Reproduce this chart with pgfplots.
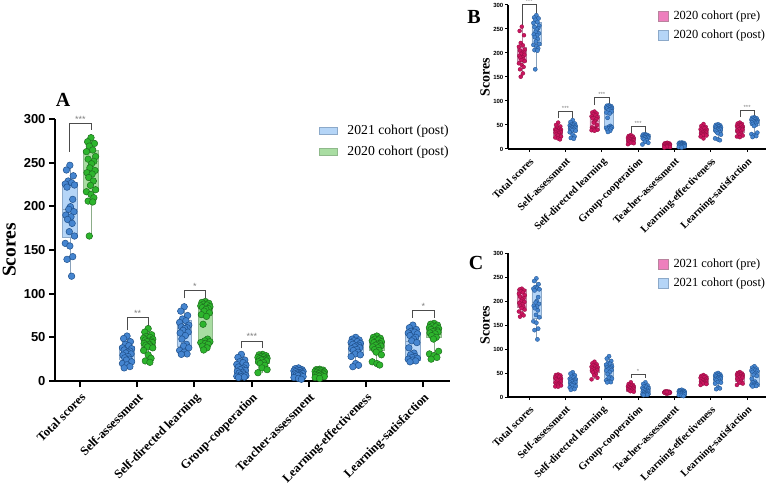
\documentclass[border=0pt]{standalone}
\usepackage{fontspec}
\setmainfont{Liberation Serif}
\newfontfamily\arial{Liberation Sans}
\usepackage{pgfplots}
\usepackage{pgfplotstable}
\pgfplotsset{compat=1.18}

\definecolor{bptfill}{HTML}{4585D0}
\definecolor{bptedge}{HTML}{1E4F8A}
\definecolor{bboxfill}{HTML}{B5D5F7}
\definecolor{bboxedge}{HTML}{8CA9C9}
\definecolor{gptfill}{HTML}{2DB52D}
\definecolor{gptedge}{HTML}{1E6E1E}
\definecolor{gboxfill}{HTML}{A9DDA2}
\definecolor{gboxedge}{HTML}{8FB98B}
\definecolor{pptfill}{HTML}{CC1560}
\definecolor{pptedge}{HTML}{8E0E40}
\definecolor{pboxfill}{HTML}{F49AC8}
\definecolor{pboxedge}{HTML}{B9839E}
\definecolor{pleg}{HTML}{EE7FBD}

% c = dimension (0..6), d = horizontal spread inside the box, v = score
% 2021 cohort (post)
\pgfplotstableread[row sep=\\]{
c d v\\
0 0 247\\ 0 -.06 241.6\\ 0 .06 235\\ 0 -.03 229\\ 0 .03 227\\ 0 -.08 225.6\\ 0 .08 224.4\\ 0 -.05 222\\ 0 .05 208\\ 0 .01 199.6\\ 0 -.02 196.6\\ 0 .07 193.9\\
0 -.07 190\\ 0 .02 188\\ 0 -.04 185\\ 0 .04 180.5\\ 0 -.01 171\\ 0 .08 166\\ 0 -.08 157.6\\ 0 0 154.6\\ 0 .05 142.4\\ 0 -.05 139.3\\ 0 .03 120\\
1 0 51.5\\ 1 -.06 48.6\\ 1 .06 45\\ 1 -.03 42\\ 1 .03 40.4\\ 1 -.08 38\\ 1 .08 37\\ 1 -.05 35.5\\ 1 .05 34.3\\ 1 .01 33\\ 1 -.02 32\\
1 .07 31\\ 1 -.07 29.6\\ 1 .02 28\\ 1 -.04 26.5\\ 1 .04 25\\ 1 -.01 24\\ 1 .08 22\\ 1 -.08 20\\ 1 0 18.5\\ 1 .05 16.5\\ 1 -.05 15\\
2 0 85\\ 2 -.06 80\\ 2 .06 75\\ 2 -.03 71\\ 2 .03 69\\ 2 -.08 67\\ 2 .08 64\\ 2 -.05 62\\ 2 .05 61\\ 2 .01 60\\ 2 -.02 58\\
2 .07 56\\ 2 -.07 55\\ 2 .02 52\\ 2 -.04 48\\ 2 .04 42\\ 2 -.01 40\\ 2 .08 38\\ 2 -.08 35\\ 2 0 33\\ 2 .05 31\\ 2 -.05 30.5\\
3 0 30.5\\ 3 -.06 27\\ 3 .06 24\\ 3 -.03 22\\ 3 .03 21\\ 3 -.08 19\\ 3 .08 18\\ 3 -.05 16\\ 3 .05 15\\ 3 .01 14\\ 3 -.02 13\\
3 .07 12\\ 3 -.07 11\\ 3 .02 10\\ 3 -.04 9\\ 3 .04 8\\ 3 -.01 7\\ 3 .08 6\\ 3 -.08 5.5\\ 3 0 5\\ 3 .05 4.5\\ 3 -.05 4\\
4 0 15\\ 4 -.06 14\\ 4 .06 13\\ 4 -.03 12.5\\ 4 .03 12\\ 4 -.08 11.5\\ 4 .08 11\\ 4 -.05 10.5\\ 4 .05 10\\ 4 .01 9.5\\ 4 -.02 9\\
4 .07 8.5\\ 4 -.07 8\\ 4 .02 7.5\\ 4 -.04 7\\ 4 .04 6.5\\ 4 -.01 6\\ 4 .08 5\\ 4 -.08 4\\ 4 0 3\\ 4 .05 2\\
5 0 50\\ 5 -.06 48\\ 5 .06 47\\ 5 -.03 46\\ 5 .03 45\\ 5 -.08 44\\ 5 .08 43\\ 5 -.05 42\\ 5 .05 41\\ 5 .01 40\\ 5 -.02 39\\
5 .07 38\\ 5 -.07 37\\ 5 .02 36\\ 5 -.04 35\\ 5 .04 33\\ 5 -.01 31\\ 5 .08 30\\ 5 -.08 28\\ 5 0 20\\ 5 .05 18\\ 5 -.05 16.4\\
6 0 64\\ 6 -.06 61\\ 6 .06 59\\ 6 -.03 57\\ 6 .03 56\\ 6 -.08 55\\ 6 .08 54\\ 6 -.05 52\\ 6 .05 50\\ 6 .01 48\\ 6 -.02 46\\
6 .07 44\\ 6 -.07 38\\ 6 .02 32\\ 6 -.04 30\\ 6 .04 28\\ 6 -.01 27\\ 6 .08 26\\ 6 -.08 25\\ 6 0 24\\ 6 .05 23\\ 6 -.05 22\\
}\postone

% 2020 cohort (post)
\pgfplotstableread[row sep=\\]{
c d v\\
0 0 278.6\\ 0 -.06 274\\ 0 .06 272\\ 0 -.03 269\\ 0 .03 264.5\\ 0 -.08 262.6\\ 0 .08 257\\ 0 -.05 254\\ 0 .05 251.5\\ 0 .01 248.7\\ 0 -.02 244\\ 0 .07 241\\
0 -.07 238.5\\ 0 .02 237\\ 0 -.04 233\\ 0 .04 229\\ 0 -.01 224\\ 0 .08 219\\ 0 -.08 216.7\\ 0 0 213.6\\ 0 .05 209.8\\ 0 -.05 206\\ 0 .03 205\\ 0 -.03 166\\
1 0 60\\ 1 -.06 56\\ 1 .06 53\\ 1 -.03 51\\ 1 .03 50\\ 1 -.08 49\\ 1 .08 48\\ 1 -.05 47\\ 1 .05 46\\ 1 .01 45.5\\ 1 -.02 45\\ 1 .07 44\\
1 -.07 43\\ 1 .02 42\\ 1 -.04 41\\ 1 .04 40\\ 1 -.01 39\\ 1 .08 38\\ 1 -.08 35\\ 1 0 30\\ 1 .05 26\\ 1 -.05 23\\ 1 .03 21.4\\
2 0 91\\ 2 -.06 90\\ 2 .06 89\\ 2 -.03 88\\ 2 .03 87\\ 2 -.08 86\\ 2 .08 85\\ 2 -.05 84\\ 2 .05 83\\ 2 .01 82\\ 2 -.02 80\\ 2 .07 78\\
2 -.07 76\\ 2 .02 74\\ 2 -.04 65\\ 2 .04 48\\ 2 -.01 46\\ 2 .08 45\\ 2 -.08 44\\ 2 0 43\\ 2 .05 42\\ 2 -.05 40\\ 2 .03 38\\ 2 -.03 35.5\\
3 0 30.5\\ 3 -.06 30\\ 3 .06 29\\ 3 -.03 28\\ 3 .03 27.5\\ 3 -.08 27\\ 3 .08 26\\ 3 -.05 25.5\\ 3 .05 25\\ 3 .01 24.5\\
3 -.02 24\\ 3 .07 23\\ 3 -.07 22\\ 3 .02 21\\ 3 -.04 20\\ 3 .04 18\\ 3 -.01 15\\ 3 .08 13\\ 3 -.08 9.5\\
4 0 13.5\\ 4 -.06 13\\ 4 .06 12.5\\ 4 -.03 12\\ 4 .03 11.5\\ 4 -.08 11\\ 4 .08 10.5\\ 4 -.05 10\\ 4 .05 9.5\\ 4 .01 9\\
4 -.02 8.5\\ 4 .07 8\\ 4 -.07 7.5\\ 4 .02 7\\ 4 -.04 6.5\\ 4 .04 6\\ 4 -.01 5.5\\ 4 .08 5\\ 4 -.08 4\\ 4 0 3\\
5 0 51.5\\ 5 -.06 50\\ 5 .06 49\\ 5 -.03 48\\ 5 .03 47\\ 5 -.08 46\\ 5 .08 45\\ 5 -.05 44\\ 5 .05 43\\ 5 .01 42\\ 5 -.02 41\\
5 .07 40\\ 5 -.07 39\\ 5 .02 38\\ 5 -.04 36\\ 5 .04 35\\ 5 -.01 33\\ 5 .08 30\\ 5 -.08 22\\ 5 0 20\\ 5 .05 18.3\\
6 0 66\\ 6 -.06 65\\ 6 .06 64\\ 6 -.03 63\\ 6 .03 62\\ 6 -.08 61\\ 6 .08 60\\ 6 -.05 59\\ 6 .05 58\\ 6 .01 57\\ 6 -.02 56.5\\
6 .07 56\\ 6 -.07 55\\ 6 .02 54\\ 6 -.04 52\\ 6 .04 50\\ 6 -.01 48\\ 6 .08 34\\ 6 -.08 31\\ 6 0 29\\ 6 .05 27\\ 6 -.05 25\\
}\posttwo

% 2020 cohort (pre)
\pgfplotstableread[row sep=\\]{
c d v\\
0 0 254.8\\ 0 -.06 246\\ 0 .06 237\\ 0 -.03 221\\ 0 .03 216\\ 0 -.08 213\\ 0 .08 207\\ 0 -.05 205\\ 0 .05 202\\ 0 .01 200\\ 0 -.02 198\\ 0 .07 196\\
0 -.07 194\\ 0 .02 191\\ 0 -.04 190\\ 0 .04 187\\ 0 -.01 185\\ 0 .08 183\\ 0 -.08 178.5\\ 0 0 175\\ 0 .05 171\\ 0 -.05 166\\ 0 .03 157.6\\ 0 -.03 150.6\\
1 0 55\\ 1 -.06 50\\ 1 .06 47\\ 1 -.03 44\\ 1 .03 42\\ 1 -.08 41\\ 1 .08 40\\ 1 -.05 39\\ 1 .05 38\\ 1 .01 37\\ 1 -.02 36\\
1 .07 35\\ 1 -.07 34\\ 1 .02 33\\ 1 -.04 31\\ 1 .04 29\\ 1 -.01 28\\ 1 .08 26\\ 1 -.08 24\\ 1 0 22\\ 1 .05 20\\
2 0 78\\ 2 -.06 76\\ 2 .06 74\\ 2 -.03 72\\ 2 .03 70\\ 2 -.08 68\\ 2 .08 66\\ 2 -.05 64\\ 2 .05 62\\ 2 .01 58\\
2 -.02 55\\ 2 .07 50\\ 2 -.07 45\\ 2 .02 43\\ 2 -.04 42\\ 2 .04 41\\ 2 -.01 40\\ 2 .08 40\\ 2 -.08 39\\ 2 0 38\\
3 0 29\\ 3 -.06 27\\ 3 .06 26\\ 3 -.03 25\\ 3 .03 24\\ 3 -.08 23\\ 3 .08 22\\ 3 -.05 21\\ 3 .05 20\\ 3 .01 20\\
3 -.02 19\\ 3 .07 18\\ 3 -.07 17\\ 3 .02 16\\ 3 -.04 15\\ 3 .04 14\\ 3 -.01 13\\ 3 .08 12\\ 3 -.08 10\\
4 0 13\\ 4 -.06 12\\ 4 .06 11.5\\ 4 -.03 11\\ 4 .03 10.5\\ 4 -.08 10\\ 4 .08 9.5\\ 4 -.05 9\\ 4 .05 8.5\\ 4 .01 8\\
4 -.02 7.5\\ 4 .07 7\\ 4 -.07 6.5\\ 4 .02 6\\ 4 -.04 5.5\\ 4 .04 5\\ 4 -.01 4.5\\ 4 .08 4\\ 4 -.08 3\\
5 0 52\\ 5 -.06 48\\ 5 .06 46\\ 5 -.03 44\\ 5 .03 43\\ 5 -.08 41\\ 5 .08 40\\ 5 -.05 38\\ 5 .05 37\\ 5 .01 36\\
5 -.02 35\\ 5 .07 34\\ 5 -.07 33\\ 5 .02 32\\ 5 -.04 31\\ 5 .04 30\\ 5 -.01 29\\ 5 .08 28\\ 5 -.08 26\\ 5 0 22\\
6 0 55\\ 6 -.06 53\\ 6 .06 52\\ 6 -.03 50\\ 6 .03 49\\ 6 -.08 48\\ 6 .08 46\\ 6 -.05 45\\ 6 .05 44\\ 6 .01 42\\
6 -.02 41\\ 6 .07 40\\ 6 -.07 38\\ 6 .02 36\\ 6 -.04 34\\ 6 .04 32\\ 6 -.01 30\\ 6 .08 28\\ 6 -.08 26\\ 6 0 24.7\\
}\pretwo

% 2021 cohort (pre)
\pgfplotstableread[row sep=\\]{
c d v\\
0 0 225.7\\ 0 -.06 224\\ 0 .06 222\\ 0 -.03 220\\ 0 .03 218\\ 0 -.08 215\\ 0 .08 212\\ 0 -.05 209\\ 0 .05 206\\ 0 .01 203\\ 0 -.02 200\\
0 .07 198\\ 0 -.07 196\\ 0 .02 193\\ 0 -.04 190\\ 0 .04 188\\ 0 -.01 185\\ 0 .08 182\\ 0 -.08 178\\ 0 0 174\\ 0 .05 170\\ 0 -.05 167.3\\
1 0 47\\ 1 -.06 46\\ 1 .06 45\\ 1 -.03 44\\ 1 .03 42\\ 1 -.08 40\\ 1 .08 38\\ 1 -.05 37\\ 1 .05 36\\ 1 .01 35\\
1 -.02 34\\ 1 .07 32\\ 1 -.07 30\\ 1 .02 28\\ 1 -.04 27\\ 1 .04 26\\ 1 -.01 25\\ 1 .08 24\\ 1 -.08 22\\ 1 0 21.5\\
2 0 73.6\\ 2 -.06 70\\ 2 .06 68\\ 2 -.03 66\\ 2 .03 64\\ 2 -.08 63\\ 2 .08 62\\ 2 -.05 60\\ 2 .05 59\\ 2 .01 58\\
2 -.02 57\\ 2 .07 56\\ 2 -.07 55\\ 2 .02 53\\ 2 -.04 51\\ 2 .04 48\\ 2 -.01 45\\ 2 .08 40\\ 2 -.08 36.8\\
3 0 30.6\\ 3 -.06 27\\ 3 .06 25\\ 3 -.03 24\\ 3 .03 23\\ 3 -.08 22\\ 3 .08 21\\ 3 -.05 20\\ 3 .05 19\\
3 .01 18\\ 3 -.02 18\\ 3 .07 17\\ 3 -.07 16\\ 3 .02 15\\ 3 -.04 14\\ 3 .04 13\\ 3 -.01 12\\ 3 .08 11\\
4 0 12\\ 4 -.06 11.5\\ 4 .06 11\\ 4 -.03 10.5\\ 4 .03 10\\ 4 -.08 9.5\\ 4 .08 9\\ 4 -.05 8.5\\ 4 .05 8\\
4 .01 7.5\\ 4 -.02 7\\ 4 .07 10\\ 4 -.07 9\\ 4 .02 8\\ 4 -.04 11\\ 4 .04 9.5\\ 4 -.01 10.5\\
5 0 45.8\\ 5 -.06 44\\ 5 .06 43\\ 5 -.03 42\\ 5 .03 41\\ 5 -.08 40\\ 5 .08 38\\ 5 -.05 37\\ 5 .05 36\\ 5 .01 35\\
5 -.02 34\\ 5 .07 33\\ 5 -.07 32\\ 5 .02 31\\ 5 -.04 30\\ 5 .04 29\\ 5 -.01 28\\ 5 .08 27\\ 5 -.08 25\\
6 0 52\\ 6 -.06 50\\ 6 .06 49\\ 6 -.03 48\\ 6 .03 47\\ 6 -.08 46\\ 6 .08 45\\ 6 -.05 44\\ 6 .05 43\\ 6 .01 42\\
6 -.02 41\\ 6 .07 40\\ 6 -.07 38\\ 6 .02 36\\ 6 -.04 34\\ 6 .04 32\\ 6 -.01 30\\ 6 .08 28\\ 6 -.08 25\\
}\preone

% box: style, position, lower whisker, Q1, median, Q3, upper whisker (half width in \bw)
\newcommand{\bx}[7]{%
  \pgfmathsetmacro\xl{#2-\bw}\pgfmathsetmacro\xr{#2+\bw}%
  \addplot[#1, forget plot] coordinates {(\xl,#4) (\xr,#4) (\xr,#6) (\xl,#6) (\xl,#4)};
  \addplot[#1 line, forget plot] coordinates {(#2,#3) (#2,#4)};
  \addplot[#1 line, forget plot] coordinates {(#2,#6) (#2,#7)};
  \addplot[#1 line, forget plot] coordinates {(\xl,#5) (\xr,#5)};
}
% significance bracket: panel, x1, y1, x2, y2, bar height, centre, stars
\newcommand{\brk}[8]{\addplot[forget plot, brk#1] coordinates {(#2,#3) (#2,#6) (#4,#6) (#4,#5)};
  \node[star#1] at (axis cs:#7,#6) {#8};}

\tikzset{
  starA/.style={above, inner sep=1pt, text=gray, font=\arial\fontsize{9}{9}\selectfont},
  starB/.style={above, inner sep=0.6pt, text=gray, font=\arial\fontsize{6}{6}\selectfont},
}
\pgfplotsset{
  brkA/.style={gray!60!black, line width=0.9pt},
  brkB/.style={gray!60!black, line width=0.6pt},
  bluebox/.style={draw=bboxedge, fill=bboxfill, line width=0.6pt},
  bluebox line/.style={draw=bboxedge!80!gray, line width=0.7pt},
  greenbox/.style={draw=gboxedge, fill=gboxfill, line width=0.6pt},
  greenbox line/.style={draw=gboxedge!80!gray, line width=0.7pt},
  pinkbox/.style={draw=pboxedge, fill=pboxfill, line width=0.5pt},
  pinkbox line/.style={draw=pboxedge, line width=0.5pt},
  panel/.style={
    scale only axis, axis x line*=bottom, axis y line*=left,
    ymin=0, ymax=300, ytick={0,50,...,300}, xtick={0,...,6},
    xticklabels={Total scores, Self-assessment, Self-directed learning, Group-cooperation,
      Teacher-assessment, Learning-effectiveness, Learning-satisfaction},
    tick align=outside, clip=false,
    xticklabel style={rotate=45, anchor=north east},
    /pgf/number format/assume math mode=true,
    legend cell align=left,
  },
}

\begin{document}
\begin{tikzpicture}
\useasboundingbox (0pt,0pt) rectangle (767pt,490pt);

% ---------------- Panel A ----------------
\def\bw{0.127}
\begin{axis}[panel, at={(55pt,109pt)}, anchor=south west, width=395pt, height=262pt,
  xmin=-0.44, xmax=6.47,
  axis line style={line width=2.2pt}, major tick length=6pt, tick style={line width=2pt, black},
  yticklabel style={font=\arial\bfseries\fontsize{13}{13}\selectfont},
  xticklabel style={font=\bfseries\fontsize{12.5}{12.5}\selectfont},
  ylabel={Scores}, ylabel style={font=\bfseries\fontsize{19.5}{19.5}\selectfont,
    at={(axis description cs:-0.116,0.5)}, anchor=center},
  legend style={at={(rel axis cs:0.668,0.985)}, anchor=north west, draw=none, fill=none,
    font=\fontsize{13.7}{13.7}\selectfont, row sep=6pt, inner sep=0pt},
  legend image code/.code={\draw[#1] (0pt,-3.6pt) rectangle (18pt,3.6pt); \path (26pt,0pt);},
]
\bx{bluebox}{-0.18}{120}{164}{197}{227}{247}
\bx{bluebox}{0.82}{15}{24}{32}{40}{51.5}
\bx{bluebox}{1.82}{30.5}{39.3}{60}{70}{85}
\bx{bluebox}{2.82}{4}{5}{13}{21.4}{30.5}
\bx{bluebox}{3.82}{2}{6}{9}{12}{15}
\bx{bluebox}{4.82}{16.4}{30}{40}{45}{50}
\bx{bluebox}{5.82}{22}{23.3}{45}{55.3}{64}
\bx{greenbox}{0.19}{166}{216.8}{240}{263.7}{278.6}
\bx{greenbox}{1.19}{21.4}{38.6}{44}{48}{60}
\bx{greenbox}{2.19}{35.5}{43}{76}{89}{91}
\bx{greenbox}{3.19}{9.5}{20.6}{25}{30}{30.5}
\bx{greenbox}{4.19}{3}{5}{9}{12}{13.5}
\bx{greenbox}{5.19}{18.3}{34.7}{42}{45}{51.5}
\bx{greenbox}{6.19}{25}{49.6}{57}{62}{66}
\addplot[forget plot, only marks, mark=*, mark size=3.3pt, mark options={fill=bptfill, draw=bptedge, line width=0.5pt}]
  table[x expr=\thisrow{c}-0.18+\thisrow{d}, y=v] {\postone};
\addplot[forget plot, only marks, mark=*, mark size=3.3pt, mark options={fill=gptfill, draw=gptedge, line width=0.5pt}]
  table[x expr=\thisrow{c}+0.19+\thisrow{d}, y=v] {\posttwo};
\brk{A}{-0.18}{262.6}{0.19}{287.5}{295}{0.005}{***}
\brk{A}{0.82}{58.4}{1.19}{63}{73}{1.005}{**}
\brk{A}{1.82}{94.7}{2.19}{94.7}{103.4}{2.005}{*}
\brk{A}{2.82}{37.4}{3.19}{37.4}{45.8}{3.005}{***}
\brk{A}{5.82}{72.5}{6.19}{72.5}{80.5}{6.005}{*}
\addlegendimage{fill=bboxfill, draw=bboxedge}
\addlegendentry{2021 cohort (post)}
\addlegendimage{fill=gboxfill, draw=gboxedge}
\addlegendentry{2020 cohort (post)}
\end{axis}

% ---------------- Panel B ----------------
\def\bw{0.124}
\begin{axis}[panel, at={(508pt,341pt)}, anchor=south west, width=258pt, height=144pt,
  xmin=-0.58, xmax=6.52,
  axis line style={line width=1.1pt}, major tick length=3pt, tick style={line width=1pt, black},
  yticklabel style={font=\arial\bfseries\fontsize{6}{6}\selectfont, inner sep=1.5pt},
  xticklabel style={font=\bfseries\fontsize{10.5}{10.5}\selectfont},
  ylabel={Scores}, ylabel style={font=\bfseries\fontsize{14}{14}\selectfont,
    at={(axis description cs:-0.089,0.5)}, anchor=center},
  legend style={at={(rel axis cs:0.581,0.975)}, anchor=north west, draw=none, fill=none,
    font=\fontsize{12.4}{12.4}\selectfont, row sep=5pt, inner sep=0pt},
  legend image code/.code={\draw[#1] (0pt,-5pt) rectangle (10pt,5pt); \path (13pt,0pt);},
]
\bx{pinkbox}{-0.2}{150.6}{183.3}{195.8}{213}{254.8}
\bx{pinkbox}{0.8}{20}{28}{37}{42}{55}
\bx{pinkbox}{1.8}{38}{40}{58}{70}{78}
\bx{pinkbox}{2.8}{10}{15}{20}{25}{29}
\bx{pinkbox}{3.8}{3}{5}{7}{10}{13}
\bx{pinkbox}{4.8}{22}{29}{36}{43}{52}
\bx{pinkbox}{5.8}{24.7}{34}{42}{50}{55}
\bx{bluebox}{0.2}{166}{216.8}{240}{263.7}{278.6}
\bx{bluebox}{1.2}{21.4}{38.6}{44}{48}{60}
\bx{bluebox}{2.2}{35.5}{43}{76}{89}{91}
\bx{bluebox}{3.2}{9.5}{20.6}{25}{30}{30.5}
\bx{bluebox}{4.2}{3}{5}{9}{12}{13.5}
\bx{bluebox}{5.2}{18.3}{34.7}{42}{45}{51.5}
\bx{bluebox}{6.2}{25}{49.6}{57}{62}{66}
\addplot[forget plot, only marks, mark=*, mark size=2pt, mark options={fill=pptfill, draw=pptedge, line width=0.3pt}]
  table[x expr=\thisrow{c}-0.2+\thisrow{d}, y=v] {\pretwo};
\addplot[forget plot, only marks, mark=*, mark size=2.1pt, mark options={fill=bptfill, draw=bptedge, line width=0.3pt}]
  table[x expr=\thisrow{c}+0.2+\thisrow{d}, y=v] {\posttwo};
\brk{B}{-0.2}{258}{0.2}{279}{302}{0}{***}
\brk{B}{0.8}{64}{1.2}{64}{77.8}{1}{***}
\brk{B}{1.8}{91.6}{2.2}{91.6}{107.6}{2}{***}
\brk{B}{2.8}{32.6}{3.2}{32.6}{46.5}{3}{***}
\brk{B}{5.8}{67}{6.2}{67}{81}{6}{***}
\addlegendimage{fill=pleg, draw=pboxedge}
\addlegendentry{2020 cohort (pre)}
\addlegendimage{fill=bboxfill, draw=bboxedge}
\addlegendentry{2020 cohort (post)}
\end{axis}

% ---------------- Panel C ----------------
\begin{axis}[panel, at={(508pt,93pt)}, anchor=south west, width=258pt, height=144pt,
  xmin=-0.58, xmax=6.52,
  axis line style={line width=1.1pt}, major tick length=3pt, tick style={line width=1pt, black},
  yticklabel style={font=\arial\bfseries\fontsize{6}{6}\selectfont, inner sep=1.5pt},
  xticklabel style={font=\bfseries\fontsize{10.5}{10.5}\selectfont},
  ylabel={Scores}, ylabel style={font=\bfseries\fontsize{14}{14}\selectfont,
    at={(axis description cs:-0.089,0.5)}, anchor=center},
  legend style={at={(rel axis cs:0.581,0.972)}, anchor=north west, draw=none, fill=none,
    font=\fontsize{12.4}{12.4}\selectfont, row sep=5pt, inner sep=0pt},
  legend image code/.code={\draw[#1] (0pt,-5pt) rectangle (10pt,5pt); \path (13pt,0pt);},
]
\bx{pinkbox}{-0.2}{167.3}{186}{198.6}{225}{225.7}
\bx{pinkbox}{0.8}{21.5}{26.4}{36}{45.8}{47}
\bx{pinkbox}{1.8}{36.8}{51.4}{58}{64.6}{73.6}
\bx{pinkbox}{2.8}{11}{12.5}{18}{23.6}{30.6}
\bx{pinkbox}{3.8}{7}{8}{9.5}{11}{12}
\bx{pinkbox}{4.8}{25}{26.4}{35}{42.4}{45.8}
\bx{pinkbox}{5.8}{25}{32}{42}{49.3}{52}
\bx{bluebox}{0.2}{120}{164}{197}{227}{247}
\bx{bluebox}{1.2}{15}{24}{32}{40}{51.5}
\bx{bluebox}{2.2}{30.5}{39.3}{60}{70}{85}
\bx{bluebox}{3.2}{4}{5}{13}{21.4}{30.5}
\bx{bluebox}{4.2}{2}{6}{9}{12}{15}
\bx{bluebox}{5.2}{16.4}{30}{40}{45}{50}
\bx{bluebox}{6.2}{22}{23.3}{45}{55.3}{64}
\addplot[forget plot, only marks, mark=*, mark size=2pt, mark options={fill=pptfill, draw=pptedge, line width=0.3pt}]
  table[x expr=\thisrow{c}-0.2+\thisrow{d}, y=v] {\preone};
\addplot[forget plot, only marks, mark=*, mark size=2.1pt, mark options={fill=bptfill, draw=bptedge, line width=0.3pt}]
  table[x expr=\thisrow{c}+0.2+\thisrow{d}, y=v] {\postone};
\brk{B}{2.8}{40}{3.2}{40}{47.2}{3}{*}
\addlegendimage{fill=pleg, draw=pboxedge}
\addlegendentry{2021 cohort (pre)}
\addlegendimage{fill=bboxfill, draw=bboxedge}
\addlegendentry{2021 cohort (post)}
\end{axis}

\node[font=\bfseries\fontsize{20}{20}\selectfont] at (63pt,390pt) {A};
\node[font=\bfseries\fontsize{20}{20}\selectfont] at (474pt,473pt) {B};
\node[font=\bfseries\fontsize{20}{20}\selectfont] at (476pt,227pt) {C};
\end{tikzpicture}
\end{document}
